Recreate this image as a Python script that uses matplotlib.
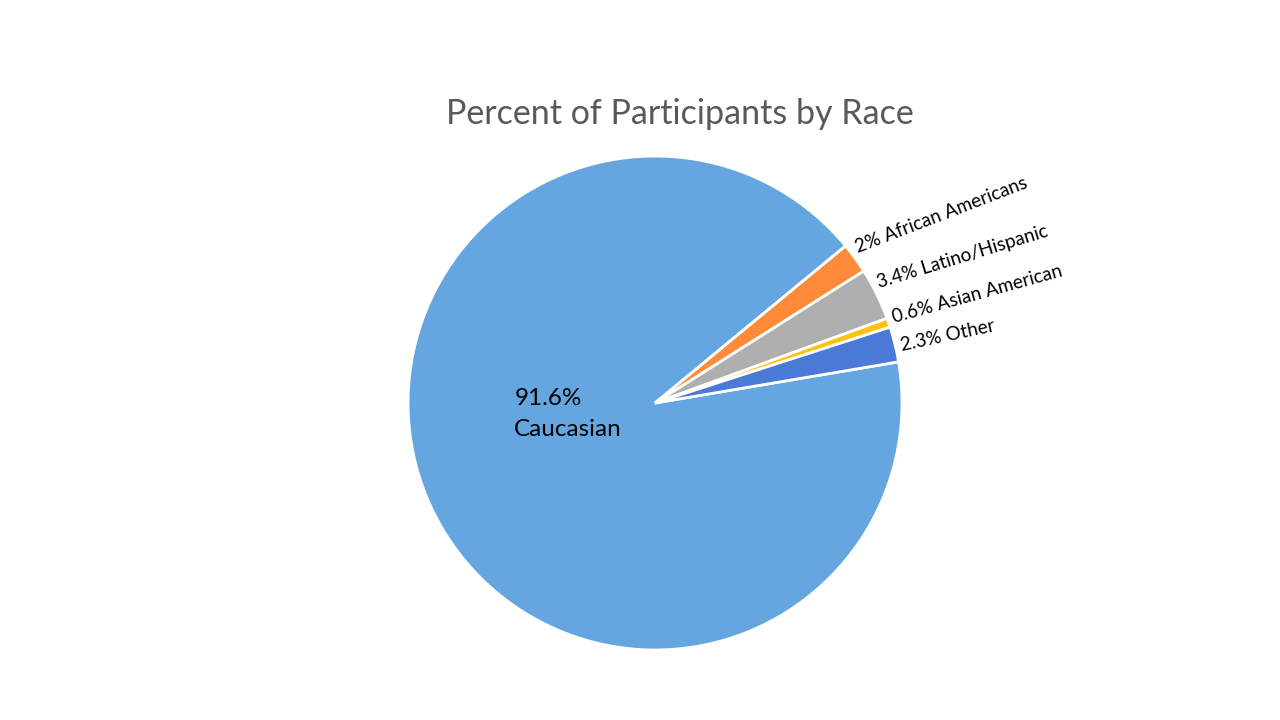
import numpy as np
import matplotlib.pyplot as plt

# data
races = ['Caucasian', 'African Americans', 'Latino/Hispanic', 'Asian American', 'Other']
percents = [91.6, 2.0, 3.4, 0.6, 2.3]
labels = ['91.6%\nCaucasian', '2% African Americans', '3.4% Latino/Hispanic',
          '0.6% Asian American', '2.3% Other']
colors = ['#65A6E1', '#FF8B3A', '#AFAFAF', '#FFC20E', '#4A7AD5']
label_rot = [0, 21, 17, 15.5, 12]
label_shift = [0, 0.6, 1.0, -0.5, -1.8]   # degrees, nudge off the slice middle

plt.rcParams['font.family'] = ['Lato', 'DejaVu Sans']

fig = plt.figure(figsize=(12.8, 7.2), dpi=100)
ax = fig.add_axes([0.3188, 0.0972, 0.3859, 0.6861])
wedges, _ = ax.pie(percents, colors=colors, startangle=9.6, counterclock=False,
                   radius=1, wedgeprops=dict(edgecolor='white', linewidth=2))
ax.set_xlim(-1, 1)
ax.set_ylim(-1, 1)
ax.set_aspect('equal')
ax.axis('off')

for i, w in enumerate(wedges):
    mid = np.deg2rad((w.theta1 + w.theta2) / 2 + label_shift[i])
    if i == 0:
        ax.text(-0.57, -0.045, labels[i], fontsize=17.5, ha='left', va='center',
                color='black', linespacing=1.55)
    else:
        r = 1.02
        ax.text(r * np.cos(mid), r * np.sin(mid), labels[i], fontsize=13.6,
                ha='left', va='baseline', rotation=label_rot[i],
                rotation_mode='anchor', color='black')

fig.text(0.531, 0.842, 'Percent of Participants by Race', fontsize=24.5,
         color='#595959', ha='center', va='center')

fig.savefig('out.png', dpi=100)
